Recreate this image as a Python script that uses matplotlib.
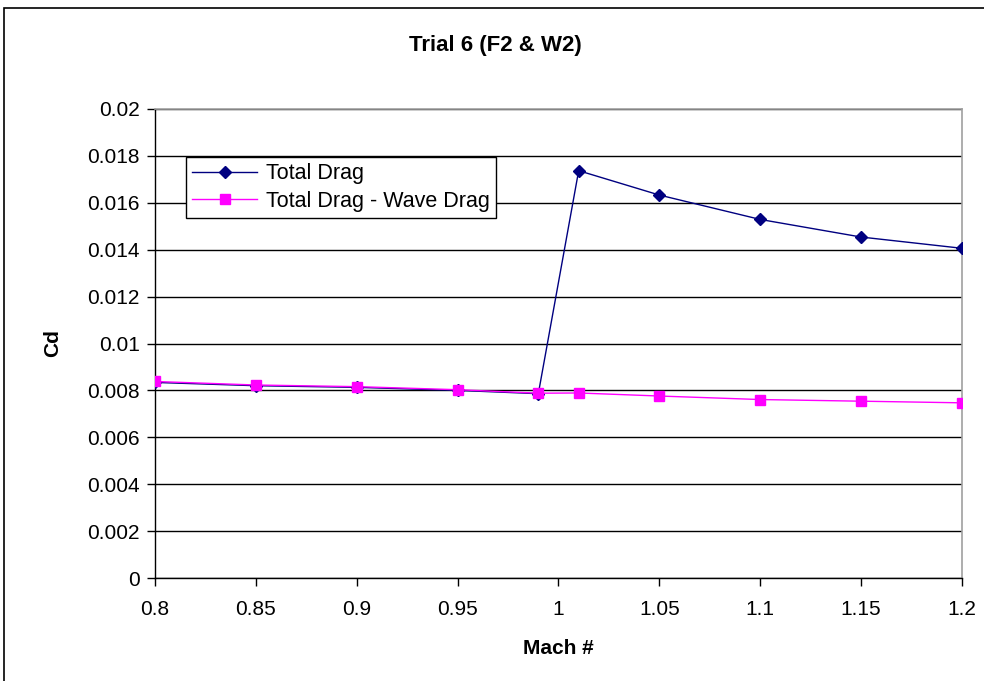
import matplotlib
matplotlib.use('Agg')
import matplotlib.pyplot as plt
from matplotlib.patches import Rectangle
from matplotlib.ticker import FixedLocator, FuncFormatter

plt.rcParams['font.family'] = ['Liberation Sans', 'DejaVu Sans']

mach = [0.8, 0.85, 0.9, 0.95, 0.99, 1.01, 1.05, 1.1, 1.15, 1.2]
total_drag = [0.00834, 0.0082, 0.00813, 0.008, 0.00786,
              0.01737, 0.01633, 0.01529, 0.01454, 0.01406]
total_minus_wave = [0.00838, 0.00823, 0.00816, 0.00803, 0.00788,
                    0.00789, 0.00776, 0.00761, 0.00754, 0.00747]
x_ticks = [0.8, 0.85, 0.9, 0.95, 1.0, 1.05, 1.1, 1.15, 1.2]
y_ticks = [0, 0.002, 0.004, 0.006, 0.008, 0.01, 0.012, 0.014, 0.016, 0.018, 0.02]

fig = plt.figure(figsize=(9.84, 6.81), dpi=100)
ax = fig.add_axes([155 / 984, 1 - 578 / 681, 807 / 984, 469 / 681])

ax.plot(mach, total_drag, color='#000080', lw=1, marker='D', ms=6,
        mfc='#000080', mec='#000080', label='Total Drag', zorder=3)
ax.plot(mach, total_minus_wave, color='#FF00FF', lw=1, marker='s', ms=7,
        mfc='#FF00FF', mec='#FF00FF', label='Total Drag - Wave Drag', zorder=4)

ax.set_xlim(0.8, 1.2)
ax.set_ylim(0, 0.02)
ax.xaxis.set_major_locator(FixedLocator(x_ticks))
ax.yaxis.set_major_locator(FixedLocator(y_ticks))
ax.xaxis.set_major_formatter(FuncFormatter(lambda v, p: f"{v:g}"))
ax.yaxis.set_major_formatter(FuncFormatter(lambda v, p: f"{v:g}"))
ax.tick_params(axis='both', direction='out', length=6, width=1,
               labelsize=15, colors='black')
ax.tick_params(axis='x', pad=10)
ax.tick_params(axis='y', pad=5)

ax.grid(axis='y', color='black', lw=1)
ax.set_axisbelow(True)
for side in ['left', 'bottom']:
    ax.spines[side].set_color('black')
    ax.spines[side].set_linewidth(1)
for side in ['top', 'right']:
    ax.spines[side].set_color('#A0A0A0')
    ax.spines[side].set_linewidth(1.2)

ax.set_xlabel('Mach #', fontsize=15, fontweight='bold', labelpad=14)
ax.set_ylabel('Cd', fontsize=15, fontweight='bold', labelpad=18)
fig.text(495 / 984, 1 - 45 / 681, 'Trial 6 (F2 & W2)', ha='center', va='center',
         fontsize=16, fontweight='bold')

leg = ax.legend(loc='upper left', bbox_to_anchor=(31 / 807, 1 - 48 / 469),
                borderaxespad=0, fontsize=15.5, fancybox=False, framealpha=1,
                edgecolor='black', handlelength=3.0, borderpad=0.3,
                labelspacing=0.3, handletextpad=0.4)
leg.get_frame().set_linewidth(1)

# outer chart frame
fig.patches.append(Rectangle((4 / 984, -0.1), 1.2, 1 - 8 / 681 + 0.1,
                             transform=fig.transFigure, fill=False,
                             edgecolor='black', lw=1.2))

fig.savefig('out.png', dpi=100, facecolor='white')
